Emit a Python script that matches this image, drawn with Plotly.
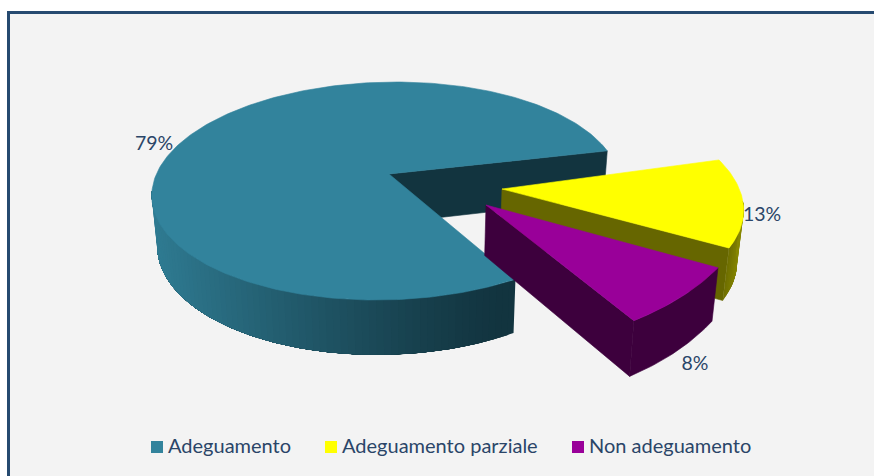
import math
import plotly.graph_objects as go

categories = ["Adeguamento", "Adeguamento parziale", "Non adeguamento"]
values = [79, 13, 8]
colors = ["#32839c", "#ffff00", "#990099"]
inner_colors = ["#12343f", "#666600", "#3d003d"]

W, H = 874, 476
START = 54.0
# per-slice projected ellipse: centre x, centre y, rx, ry, horizontal shear in px
ELLIPSES = [(386, 191, 234, 109, -10), (507.8, 200.8, 235, 111, 20), (516, 209, 235, 138, -25)]
APEXES = [(389, 174), (502, 189), (486, 205)]
VANISH_X, SHRINK = 420, 0.02
TEXT = "#2a4568"
FONT = "Lato"


def pt(e, deg):
    a = math.radians(deg)
    return (e[0] + e[2] * math.cos(a) + e[4] * math.sin(a), e[1] + e[3] * math.sin(a))


def low(p):
    return (p[0] + (VANISH_X - p[0]) * SHRINK, p[1] + 48 + (p[1] - 148) * 0.045)


def arc(e, a0, a1, step=1.0):
    n = max(2, int(abs(a1 - a0) / step) + 1)
    return [pt(e, a0 + (a1 - a0) * i / (n - 1)) for i in range(n)]


def mix(c0, c1, t):
    return "rgb(%d,%d,%d)" % tuple(round(c0[i] + (c1[i] - c0[i]) * t) for i in range(3))


fig = go.Figure()


def poly(points, color, name, lw=0.6):
    fig.add_trace(go.Scatter(
        x=[p[0] for p in points] + [points[0][0]],
        y=[p[1] for p in points] + [points[0][1]],
        mode="lines", fill="toself", fillcolor=color,
        line=dict(color=color, width=lw),
        hoverinfo="skip", showlegend=False, name=name))


def wall(e, a_from, a_to, color_fn, name, n):
    """Outer wall painted as overlapping bands, each one covering the seam of the last."""
    step = (a_to - a_from) / n
    for i in range(n):
        b0 = a_from + step * i
        b1 = a_to
        pts = arc(e, b0, b1, 1.0)
        poly(pts + [low(p) for p in reversed(pts)], color_fn(pt(e, b0 + step / 2)[0]), name, 0)


total = sum(values)
spans = []
s = START
for v in values:
    e = s + v / total * 360
    spans.append((s, e))
    s = e

# ---- big slice
a0, a1 = spans[0]
ell, ap = ELLIPSES[0], APEXES[0]
end_pt = pt(ell, a1)
poly([ap, end_pt, low(end_pt), low(ap)], inner_colors[0], categories[0] + " interno")
wall(ell, a0, 180,
     lambda x: mix((18, 52, 63), (47, 123, 146), max(0.0, min(1.0, (500 - x) / (500 - 152))) ** 1.2),
     categories[0] + " parete", 70)
poly([ap] + arc(ell, a0, a1), colors[0], categories[0])

# ---- yellow slice
a0, a1 = spans[1]
ell, ap = ELLIPSES[1], APEXES[1]
end_pt = pt(ell, a1)
poly([ap, end_pt, low(end_pt), low(ap)], inner_colors[1], categories[1] + " interno")
wall(ell, a1, 360,
     lambda x: mix((102, 102, 0), (135, 135, 0), max(0.0, min(1.0, (x - 725) / 18))),
     categories[1] + " parete", 14)
poly([ap] + arc(ell, a0, a1), colors[1], categories[1])

# ---- purple slice
a0, a1 = spans[2]
ell, ap = ELLIPSES[2], APEXES[2]
end_pt = pt(ell, a1)
poly([ap, end_pt, low(end_pt), low(ap)], inner_colors[2], categories[2] + " interno")
pts = arc(ell, a0, a1)
poly(pts + [low(p) for p in reversed(pts)], inner_colors[2], categories[2] + " parete")
poly([ap] + pts, colors[2], categories[2])

# ---- value labels
label_xy = [(154, 145), (762, 216), (695, 365)]
fig.add_trace(go.Scatter(
    x=[p[0] for p in label_xy], y=[p[1] for p in label_xy],
    text=[f"{v}%" for v in values], mode="text",
    textfont=dict(family=FONT, size=19.5, color=TEXT),
    hoverinfo="skip", showlegend=False))

# ---- legend row
leg_marker_x = [157, 331, 578]
leg_text_x = [168, 342, 589]
LEG_Y = 447
for name, col, mx, tx in zip(categories, colors, leg_marker_x, leg_text_x):
    fig.add_trace(go.Scatter(
        x=[mx], y=[LEG_Y], mode="markers",
        marker=dict(symbol="square", size=12, color=col, line=dict(width=0)),
        hoverinfo="skip", showlegend=False, name=name))
    fig.add_trace(go.Scatter(
        x=[tx], y=[LEG_Y + 1], mode="text", text=[name], textposition="middle right",
        textfont=dict(family=FONT, size=20, color=TEXT),
        hoverinfo="skip", showlegend=False, name=name))

fig.update_layout(
    width=W, height=H, margin=dict(l=0, r=0, t=0, b=0),
    paper_bgcolor="#ffffff", plot_bgcolor="#ffffff",
    xaxis=dict(range=[0, W], visible=False, fixedrange=True),
    yaxis=dict(range=[H, 0], visible=False, fixedrange=True),
    showlegend=False,
    shapes=[dict(type="rect", xref="x", yref="y", x0=8.5, y0=12.5, x1=W + 10, y1=H + 10,
                 fillcolor="#f3f3f3", line=dict(color="#264a70", width=3), layer="below")],
)
fig.write_html("out.html", config=dict(displayModeBar=False),
               post_script="document.body.style.margin='0';document.documentElement.style.overflow='hidden';")
